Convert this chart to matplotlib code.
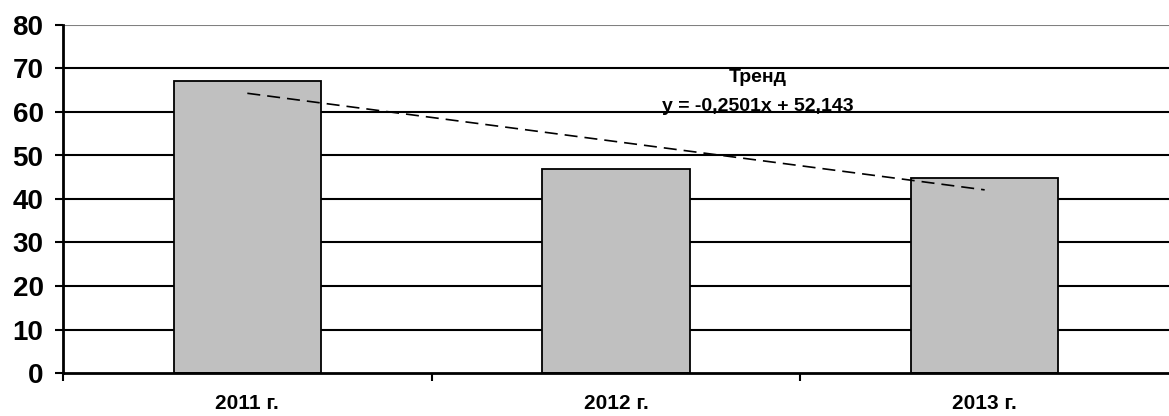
import numpy as np
import matplotlib
matplotlib.use("Agg")
import matplotlib.pyplot as plt

# === DATA ===
years = ["2011 г.", "2012 г.", "2013 г."]
values = [67.1, 46.9, 44.8]
trend_values = [64.3, 42.1]   # trend line at first and last category
trend_title = "Тренд"
trend_eq = "y = -0,2501x + 52,143"
y_ticks = [0, 10, 20, 30, 40, 50, 60, 70, 80]

plt.rcParams["font.family"] = ["Liberation Sans", "DejaVu Sans"]
plt.rcParams["font.weight"] = "bold"

fig = plt.figure(figsize=(11.69, 4.16), dpi=100)
ax = fig.add_axes([63 / 1169, 1 - 373 / 416, 1 - 63 / 1169, (373 - 25) / 416])

x = np.arange(len(years))

# gridlines
for v in y_ticks[1:]:
    ax.axhline(v, color="#808080" if v == y_ticks[-1] else "black", lw=1.5, zorder=1)

ax.bar(x, values, width=0.4, color="#C0C0C0", edgecolor="black", linewidth=1.3, zorder=2)

ax.plot([x[0], x[-1]], trend_values, color="black", lw=1.2,
        linestyle=(0, (7.8, 4.2)), zorder=3)

ax.text(1.385, 68.0, trend_title, ha="center", va="center", fontsize=14, fontweight="bold")
ax.text(1.385, 61.2, trend_eq, ha="center", va="center", fontsize=14, fontweight="bold")

ax.set_xlim(-0.5, len(years) - 0.5)
ax.set_ylim(0, 80)
ax.set_yticks(y_ticks)
ax.tick_params(axis="y", length=6, width=1.5, pad=8, labelsize=20)
for lbl in ax.get_yticklabels():
    lbl.set_fontweight("bold")

# category boundaries as major ticks, labels on minor ticks
ax.set_xticks(np.arange(len(years)) - 0.5)
ax.set_xticklabels([])
ax.tick_params(axis="x", which="major", length=6, width=1.5, direction="out")
ax.set_xticks(x, minor=True)
ax.set_xticklabels(years, minor=True, fontsize=15, fontweight="bold")
ax.tick_params(axis="x", which="minor", length=0, pad=15)

for side in ["top", "right"]:
    ax.spines[side].set_visible(False)
ax.spines["left"].set_linewidth(2)
ax.spines["bottom"].set_linewidth(2)

plt.savefig("out.png", dpi=100)
plt.close()
